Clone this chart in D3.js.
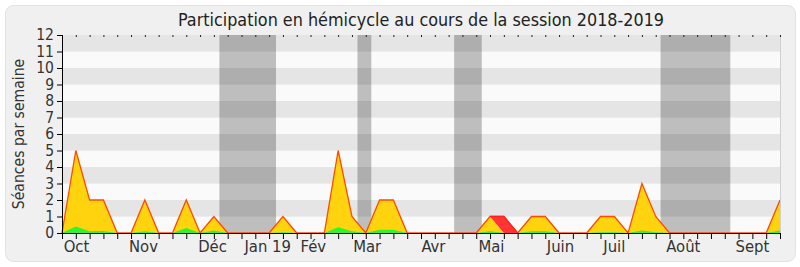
<!DOCTYPE html>
<html>
<head>
<meta charset="utf-8">
<script src="https://cdn.jsdelivr.net/npm/d3@7"></script>
<style>
  html, body { margin: 0; padding: 0; background: #fff; }
  text { font-family: 'DejaVu Sans Condensed', 'DejaVu Sans', sans-serif; font-stretch: condensed; }
</style>
</head>
<body>
<div id="chart"></div>
<script>
// one value per week, week 0 = start of session
const presence = [0, 5, 2, 2, 0, 0, 2, 0, 0, 2, 0, 1, 0, 0, 0, 0, 1, 0, 0, 0, 5, 1, 0, 2, 2, 0, 0, 0, 0, 0, 0, 1, 0, 0, 1, 1, 0, 0, 0, 1, 1, 0, 3, 1, 0, 0, 0, 0, 0, 0, 0, 0, 2]
const interventions = [0, 0.4, 0.1, 0.12, 0, 0, 0.1, 0, 0, 0.3, 0, 0.15, 0, 0, 0, 0, 0.05, 0, 0, 0, 0.35, 0.1, 0, 0.2, 0.2, 0, 0, 0, 0, 0, 0, 0.1, 0, 0, 0.1, 0.1, 0, 0, 0, 0.05, 0.05, 0, 0.15, 0.05, 0, 0, 0, 0, 0, 0, 0, 0, 0.15]
const absences = [0, 0, 0, 0, 0, 0, 0, 0, 0, 0, 0, 0, 0, 0, 0, 0, 0, 0, 0, 0, 0, 0, 0, 0, 0, 0, 0, 0, 0, 0, 0, 0, 1, 0, 0, 0, 0, 0, 0, 0, 0, 0, 0, 0, 0, 0, 0, 0, 0, 0, 0, 0, 0]
const holidays = [[11.4, 15.5], [21.4, 22.4], [28.4, 30.4], [43.35, 48.4]]
const monthLabels = ['Oct', 'Nov', 'Déc', 'Jan 19', 'Fév', 'Mar', 'Avr', 'Mai', 'Juin', 'Juil', 'Août', 'Sept']
const monthWeeks = [1.05, 5.9, 10.9, 14.9, 18.2, 22.1, 26.9, 31.1, 36.1, 40, 45, 50]
const yTicks = [0, 1, 2, 3, 4, 5, 6, 7, 8, 9, 10, 11, 12]

const width = 800, height = 267
const margin = { top: 35, right: 20, bottom: 34, left: 62 }
const innerW = width - margin.left - margin.right
const innerH = height - margin.top - margin.bottom

const data = presence.map((p, i) => ({ week: i, p, g: interventions[i], a: absences[i] }))

const svg = d3.select('#chart').append('svg')
  .attr('xmlns', 'http://www.w3.org/2000/svg')
  .attr('width', width).attr('height', height)

svg.append('rect').attr('x', 5.5).attr('y', 5.5).attr('width', 790).attr('height', 256)
  .attr('rx', 8).attr('fill', '#f0f0f0').attr('stroke', '#e2e2e2')

const g = svg.append('g').attr('transform', `translate(${margin.left},${margin.top})`)

const x = d3.scaleLinear().domain([0, presence.length - 1]).range([0, innerW])
const y = d3.scaleLinear().domain([0, 12]).range([innerH, 0])

// horizontal stripes
g.selectAll('.stripe').data(d3.range(12)).join('rect')
  .attr('x', 0).attr('width', innerW)
  .attr('y', (d) => y(d + 1)).attr('height', (d) => y(d) - y(d + 1))
  .attr('fill', (d) => (d % 2 === 1 ? '#e5e5e5' : '#fafafa'))

// holiday bands
g.selectAll('.holiday').data(holidays).join('rect')
  .attr('x', (d) => x(d[0])).attr('width', (d) => x(d[1]) - x(d[0]))
  .attr('y', 0).attr('height', innerH)
  .attr('fill', '#000').attr('fill-opacity', 0.24)

const total = d3.area().x((d) => x(d.week)).y0(y(0)).y1((d) => y(d.p))
const red = d3.area().x((d) => x(d.week)).y0((d) => y(d.p)).y1((d) => y(d.p + d.a))
const green = d3.area().x((d) => x(d.week)).y0(y(0)).y1((d) => y(d.g))

g.append('path').datum(data).attr('d', total).attr('fill', '#ffd40e')
g.append('path').datum(data).attr('d', red).attr('fill', '#ff3535')
g.append('path').datum(data).attr('d', green).attr('fill', '#2ef52e')
g.append('path').datum(data)
  .attr('d', d3.line().x((d) => x(d.week)).y((d) => y(d.p + d.a)))
  .attr('fill', 'none').attr('stroke', '#ff4a00').attr('stroke-width', 1.3)
g.append('path').datum(data.filter((d) => d.week >= 31 && d.week <= 33))
  .attr('d', d3.line().x((d) => x(d.week)).y((d) => y(d.p + d.a)))
  .attr('fill', 'none').attr('stroke', '#ff2020').attr('stroke-width', 1.3)

// right border
g.append('line').attr('x1', innerW + 0.5).attr('x2', innerW + 0.5).attr('y1', 0).attr('y2', innerH)
  .attr('stroke', '#cfcfcf')

// top minor ticks
g.append('g').call(d3.axisTop(x).tickValues(d3.range(presence.length)).tickSize(-2).tickFormat(''))
  .call((s) => s.select('.domain').remove())
  .selectAll('line').attr('stroke', '#222')

// axes
const yAxis = g.append('g').call(d3.axisLeft(y).tickValues(yTicks).tickSize(5).tickPadding(3))
yAxis.selectAll('text').attr('font-size', 15.5).attr('fill', '#333').attr('font-family', null)
yAxis.select('.domain').attr('d', `M0.5,0V${innerH}`)

const xAxis = g.append('g').attr('transform', `translate(0,${innerH})`)
  .call(d3.axisBottom(x).tickValues(d3.range(presence.length)).tickSize(6).tickFormat(''))
xAxis.select('.domain').attr('d', `M0,0.5H${innerW}`)

g.append('g').selectAll('text').data(monthLabels).join('text')
  .attr('x', (d, i) => x(monthWeeks[i])).attr('y', innerH + 18.5)
  .attr('text-anchor', 'middle').attr('font-size', 16.5).attr('fill', '#333')
  .text((d) => d)

svg.append('text').attr('x', margin.left + innerW / 2).attr('y', 26)
  .attr('text-anchor', 'middle').attr('font-size', 17.8).attr('fill', '#222')
  .text('Participation en hémicycle au cours de la session 2018-2019')

svg.append('text').attr('transform', `translate(24,${margin.top + innerH / 2}) rotate(-90)`)
  .attr('text-anchor', 'middle').attr('font-size', 15.6).attr('fill', '#333')
  .text('Séances par semaine')
</script>
</body>
</html>
